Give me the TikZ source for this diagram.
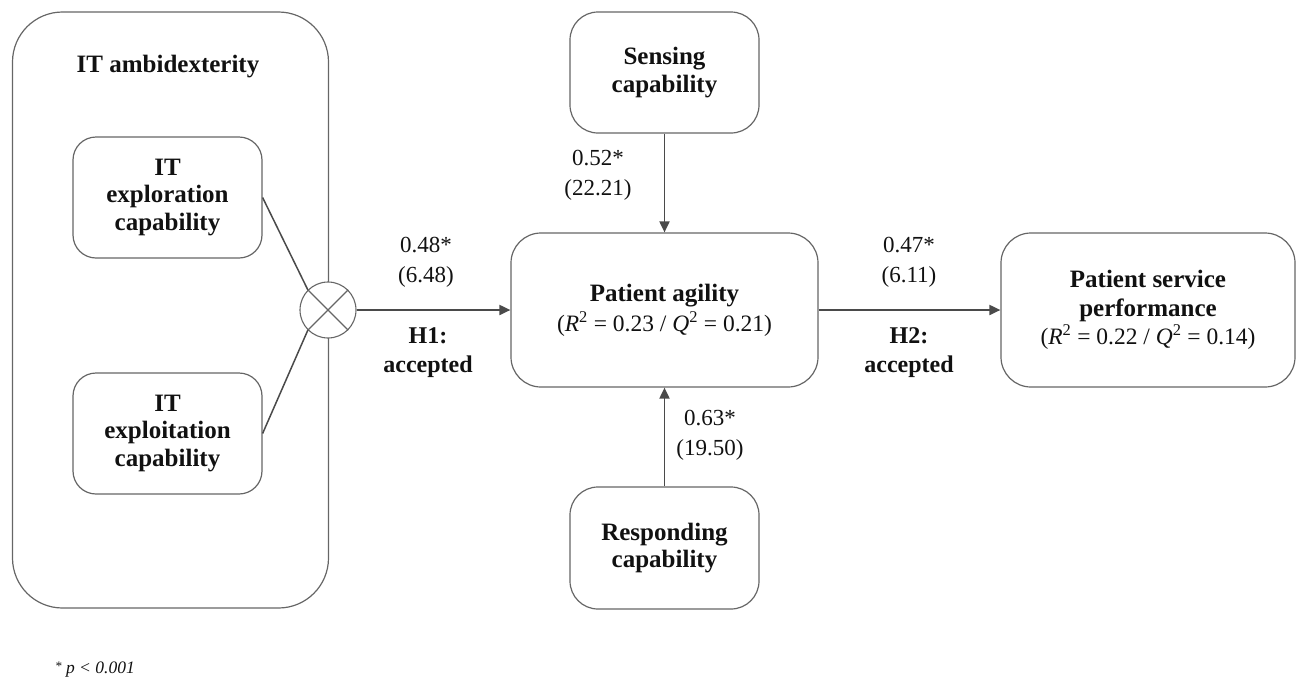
\documentclass[tikz,border=0pt]{standalone}
\usepackage{fontspec}
\setmainfont{Liberation Serif}
\usetikzlibrary{arrows.meta}
\definecolor{boxgray}{HTML}{666666}
\definecolor{arrgray}{HTML}{4A4A4A}
\definecolor{txt}{HTML}{111111}
\begin{document}
\begin{tikzpicture}[x=1pt,y=-1pt,
  every node/.style={text=txt},
  rbox/.style={draw=boxgray, line width=1.2pt, align=center, inner sep=0pt,
    font=\fontsize{25}{27.5}\selectfont\bfseries},
  numlbl/.style={align=center, inner sep=0pt, font=\fontsize{23}{30}\selectfont},
  hyplbl/.style={align=center, inner sep=0pt, font=\fontsize{24}{29}\selectfont\bfseries},
  arr/.style={draw=arrgray, line width=1.9pt, -{Triangle[length=11pt,width=10pt]}},
  link/.style={draw=arrgray, line width=1.5pt}
]
\useasboundingbox (0,0) rectangle (1296,678);

% IT ambidexterity container
\node[rbox, rounded corners=50pt, minimum width=316pt, minimum height=596pt] (itamb) at (170.5,310) {};
\node[font=\fontsize{25}{27.5}\selectfont\bfseries, inner sep=0pt] (ittitle) at (168,66.5) {IT ambidexterity};

\node[rbox, rounded corners=23pt, minimum width=189pt, minimum height=121pt] (explo) at (167.5,197.5) {IT\\exploration\\capability};
\node[rbox, rounded corners=23pt, minimum width=189pt, minimum height=121pt] (exploit) at (167.5,433.5) {IT\\exploitation\\capability};

% interaction circle
\node[draw=boxgray, fill=white, circle, line width=1.1pt, minimum size=56pt, inner sep=0pt] (circ) at (328,310) {};
\draw[draw=boxgray, line width=1.1pt] (circ.45) -- (circ.225) (circ.135) -- (circ.-45);
\draw[link] (explo.east) -- (circ.135);
\draw[link] (exploit.east) -- (circ.225);

% central constructs
\node[rbox, rounded corners=30pt, minimum width=307pt, minimum height=154pt,
  font=\fontsize{25}{30}\selectfont] (pa) at (664.5,310)
  {\textbf{Patient agility}\\{\fontsize{23.5}{30}\selectfont(\textit{R}\textsuperscript{2} = 0.23 / \textit{Q}\textsuperscript{2} = 0.21)}};
\node[rbox, rounded corners=28pt, minimum width=189pt, minimum height=121pt] (sense) at (664.5,72.5) {Sensing\\capability};
\node[rbox, rounded corners=28pt, minimum width=189pt, minimum height=122pt] (resp) at (664.5,548) {Responding\\capability};
\node[rbox, rounded corners=30pt, minimum width=294pt, minimum height=154pt,
  font=\fontsize{25}{28.5}\selectfont] (psp) at (1148,310)
  {\textbf{Patient service}\\\textbf{performance}\\{\fontsize{23.5}{28.5}\selectfont(\textit{R}\textsuperscript{2} = 0.22 / \textit{Q}\textsuperscript{2} = 0.14)}};

% connectors
\draw[arr] (circ.east) -- (pa.west);
\draw[arr] (sense.south) -- (pa.north);
\draw[arr] (resp.north) -- (pa.south);
\draw[arr] (pa.east) -- (psp.west);

% path labels
\node[numlbl] (l1) at (426,262) {0.48*\\(6.48)};
\node[hyplbl] (h1) at (428,352.5) {H1:\\accepted};
\node[numlbl] (l2) at (598,175) {0.52*\\(22.21)};
\node[numlbl] (l3) at (710,435) {0.63*\\(19.50)};
\node[numlbl] (l4) at (909,262) {0.47*\\(6.11)};
\node[hyplbl] (h2) at (909,352.5) {H2:\\accepted};

% footnote
\node[anchor=base west, inner sep=0pt, font=\fontsize{17.5}{19}\selectfont\itshape] (fn) at (55,673) {\raisebox{0.15em}{\fontsize{13}{14}\selectfont*} p < 0.001};
\end{tikzpicture}
\end{document}
